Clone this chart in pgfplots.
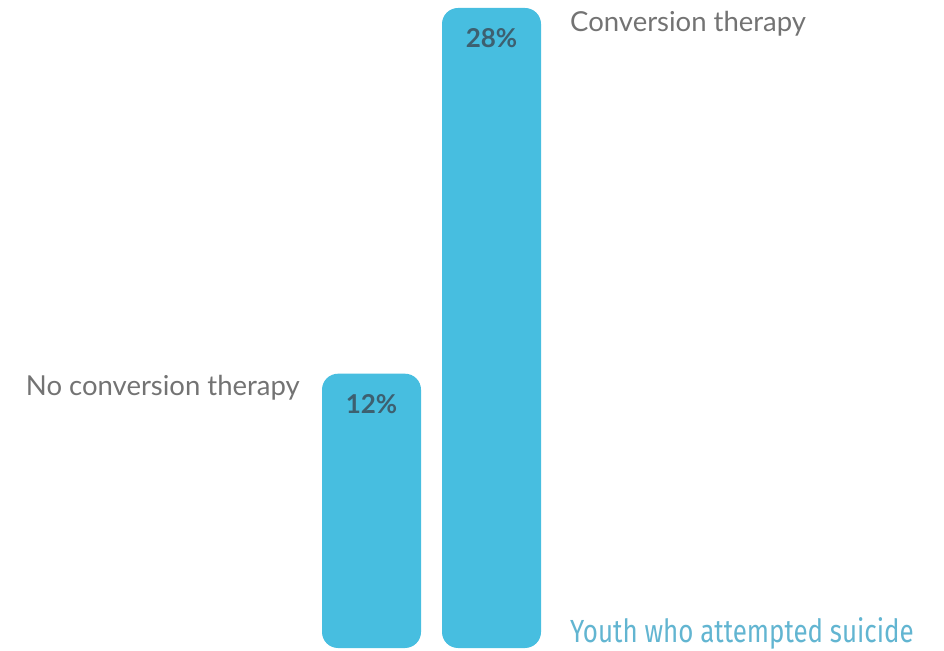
\documentclass[border=0pt]{standalone}
\usepackage{fontspec}
\setmainfont{Lato}
\newfontfamily\cond[FakeStretch=0.81]{Fira Sans}
\usepackage{pgfplots}
\pgfplotsset{compat=1.18}
\definecolor{barblue}{HTML}{47BEE0}
\definecolor{pctcol}{HTML}{3D6070}
\definecolor{labgray}{HTML}{737373}
\definecolor{capblue}{HTML}{62B5D1}
\begin{document}
\begin{tikzpicture}
\begin{axis}[
  scale only axis, width=944pt, height=650pt,
  hide axis, clip=false,
  xmin=0, xmax=944, ymin=-0.0875, ymax=28.35,
  ybar, bar width=99pt, bar shift=0pt,
  /pgf/number format/assume math mode=true,
  nodes near coords={\pgfmathprintnumber{\pgfplotspointmeta}\%},
  every node near coord/.append style={anchor=center, yshift=-30pt, font=\fontsize{26}{30}\selectfont\bfseries, text=pctcol},
]
\addplot[fill=barblue, draw=none, rounded corners=16pt] coordinates {(371.5,12) (491.5,28)};
\node[anchor=base west, text=labgray, font=\fontsize{27.5}{32}\selectfont, inner sep=0pt] at (axis cs:570,26.95) {Conversion therapy};
\node[anchor=base east, text=labgray, font=\fontsize{27.5}{32}\selectfont, inner sep=0pt] at (axis cs:300,11.03) {No conversion therapy};
\node[anchor=base west, text=capblue, font=\cond\fontsize{32}{36}\selectfont, inner sep=0pt] at (axis cs:570,0.26) {Youth who attempted suicide};
\end{axis}
\pgfresetboundingbox
\path[use as bounding box] (current axis.south west) rectangle (current axis.north east);
\end{tikzpicture}
\end{document}
